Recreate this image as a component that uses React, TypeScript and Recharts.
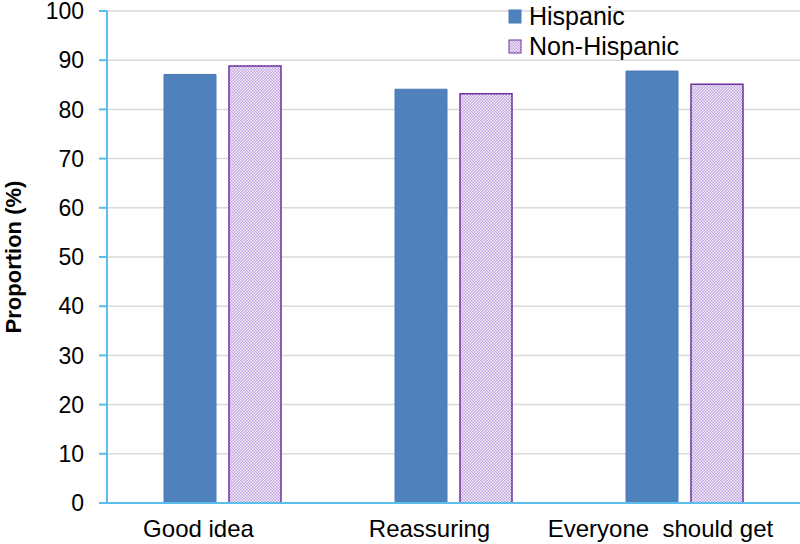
import React from 'react';
import { BarChart, Bar, XAxis, YAxis, CartesianGrid, Legend } from 'recharts';

const categories = ['Good idea', 'Reassuring', 'Everyone  should get'];
const hispanic = [87.1, 84.1, 87.8];
const nonHispanic = [88.8, 83.2, 85.1];
const yTicks = [0, 10, 20, 30, 40, 50, 60, 70, 80, 90, 100];

const data = categories.map((c, i) => ({ name: c, hispanic: hispanic[i], nonHispanic: nonHispanic[i] }));

const FONT = 'Liberation Sans, Arial, sans-serif';
const AXIS_BLUE = '#5BBDEB';
const BLUE = '#4F81BD';
const PURPLE = '#7030A0';

const XTick = (props: any) => {
  const { x, y, payload } = props;
  return (
    <text x={x - 24} y={y + 26} textAnchor="middle" fontFamily={FONT} fontSize={24} fill="#000" style={{ whiteSpace: 'pre' }}>
      {payload.value}
    </text>
  );
};

const YLabel = (props: any) => {
  const vb = props.viewBox || { y: 10, height: 493 };
  const cy = vb.y + vb.height / 2;
  const bx = 21;
  return (
    <text x={bx} y={cy} transform={`rotate(-90, ${bx}, ${cy})`} textAnchor="middle" fontFamily={FONT} fontSize={22} fontWeight="bold" fill="#000">
      Proportion (%)
    </text>
  );
};

const LegendContent = () => (
  <div style={{ fontFamily: FONT, fontSize: 25, color: '#000', lineHeight: '30px' }}>
    <div style={{ display: 'flex', alignItems: 'center' }}>
      <svg width={21} height={30}>
        <rect x={1} y={9} width={12} height={13} fill={BLUE} stroke="#4a7ab5" strokeWidth={1} />
      </svg>
      <span>Hispanic</span>
    </div>
    <div style={{ display: 'flex', alignItems: 'center' }}>
      <svg width={21} height={30}>
        <rect x={1} y={9} width={12} height={13} fill="url(#purpleDots)" stroke={PURPLE} strokeWidth={1} />
      </svg>
      <span>Non-Hispanic</span>
    </div>
  </div>
);

export default function App() {
  return (
    <div style={{ position: 'absolute', left: 0, top: 0, width: 800, height: 544, background: '#fff' }}>
      <svg width={0} height={0} style={{ position: 'absolute' }}>
        <defs>
          <pattern id="purpleDots" patternUnits="userSpaceOnUse" width={3} height={3}>
            <rect x={0} y={0} width={3} height={3} fill="#f4eefa" />
            <rect x={0} y={0} width={1.5} height={1.5} fill="#bfa3dd" />
            <rect x={1.5} y={1.5} width={1.5} height={1.5} fill="#bfa3dd" />
          </pattern>
        </defs>
      </svg>
      <BarChart
        width={800}
        height={544}
        data={data}
        margin={{ top: 11, right: 0, bottom: 0, left: 0 }}
        barCategoryGap={57}
        barGap={13}
      >
        <CartesianGrid vertical={false} stroke="#d9d9d9" strokeWidth={1.5} />
        <XAxis
          dataKey="name"
          axisLine={{ stroke: AXIS_BLUE, strokeWidth: 2 }}
          tickLine={false}
          tick={<XTick />}
          interval={0}
          height={41}
        />
        <YAxis
          domain={[0, 100]}
          ticks={yTicks}
          interval={0}
          width={107}
          axisLine={{ stroke: AXIS_BLUE, strokeWidth: 2 }}
          tickLine={{ stroke: AXIS_BLUE, strokeWidth: 2 }}
          tickSize={8}
          tickMargin={15}
          tick={{ fontFamily: FONT, fontSize: 23, fill: '#000' }}
          label={<YLabel />}
        />
        <Legend
          layout="vertical"
          align="center"
          verticalAlign="middle"
          content={<LegendContent />}
          wrapperStyle={{ left: 508, top: 1, width: 'auto' }}
        />
        <Bar dataKey="hispanic" name="Hispanic" fill={BLUE} stroke="#4a7ab5" strokeWidth={1} isAnimationActive={false} />
        <Bar dataKey="nonHispanic" name="Non-Hispanic" fill="url(#purpleDots)" stroke={PURPLE} strokeWidth={1.5} isAnimationActive={false} />
      </BarChart>
    </div>
  );
}
